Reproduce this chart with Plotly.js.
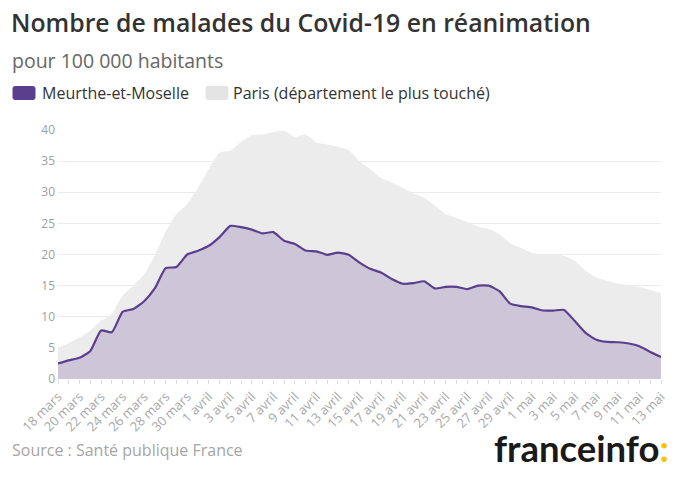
<!DOCTYPE html>
<html>
<head>
<meta charset="utf-8">
<script src="https://cdn.plot.ly/plotly-3.0.1.min.js"></script>
<style>
html,body{margin:0;padding:0;background:#fff;}
#chart{width:680px;height:480px;}
</style>
</head>
<body>
<div id="chart"></div>
<script>
const days = [
  "18 mars","19 mars","20 mars","21 mars","22 mars","23 mars","24 mars","25 mars","26 mars","27 mars",
  "28 mars","29 mars","30 mars","31 mars","1 avril","2 avril","3 avril","4 avril","5 avril","6 avril",
  "7 avril","8 avril","9 avril","10 avril","11 avril","12 avril","13 avril","14 avril","15 avril","16 avril",
  "17 avril","18 avril","19 avril","20 avril","21 avril","22 avril","23 avril","24 avril","25 avril","26 avril",
  "27 avril","28 avril","29 avril","30 avril","1 mai","2 mai","3 mai","4 mai","5 mai","6 mai",
  "7 mai","8 mai","9 mai","10 mai","11 mai","12 mai","13 mai"
];
const meurthe = [
  2.5, 3.0, 3.4, 4.5, 7.8, 7.5, 10.8, 11.25, 12.5, 14.6,
  17.8, 18.0, 20.0, 20.6, 21.4, 22.8, 24.6, 24.4, 24.0, 23.4,
  23.6, 22.2, 21.7, 20.65, 20.5, 19.95, 20.3, 19.95, 18.7, 17.7,
  17.1, 16.05, 15.3, 15.4, 15.7, 14.55, 14.8, 14.8, 14.45, 15.0,
  15.0, 14.1, 12.1, 11.7, 11.5, 11.0, 11.0, 11.1, 9.3, 7.4,
  6.3, 5.95, 5.9, 5.7, 5.25, 4.35, 3.55
];
const paris = [
  4.9, 5.7, 6.6, 7.7, 9.3, 10.3, 13.3, 14.9, 16.7, 19.7,
  23.5, 26.4, 28.0, 30.6, 33.6, 36.3, 36.6, 38.0, 39.1, 39.2,
  39.6, 39.8, 38.8, 39.2, 37.9, 37.6, 37.2, 36.7, 34.9, 33.6,
  32.2, 31.5, 30.6, 29.8, 29.0, 27.8, 26.4, 25.8, 25.1, 24.4,
  24.0, 23.2, 21.7, 21.0, 20.2, 19.95, 20.0, 19.7, 18.9, 17.3,
  16.2, 15.7, 15.25, 15.0, 14.7, 14.2, 13.7
];
const yTicks = [0, 5, 10, 15, 20, 25, 30, 35, 40];
const tickLabels = days.map((d, i) => (i % 2 === 0 ? d : ""));

const FONT = "'Open Sans', Lato, sans-serif";

const traces = [
  {
    x: days, y: paris, type: "scatter", mode: "lines",
    name: "Paris (département le plus touché)",
    line: {color: "#ececec", width: 1, shape: "spline", smoothing: 0.5},
    fill: "tozeroy", fillcolor: "#ececec",
    hoverinfo: "skip", showlegend: false
  },
  {
    x: days, y: meurthe, type: "scatter", mode: "lines",
    name: "Meurthe-et-Moselle",
    line: {color: "#5b3f8e", width: 2.2, shape: "spline", smoothing: 0.5},
    fill: "tozeroy", fillcolor: "#cdc6d9",
    hoverinfo: "skip", showlegend: false
  }
];

const layout = {
  width: 680, height: 480,
  margin: {l: 57.5, r: 19.3, t: 130, b: 100.5},
  paper_bgcolor: "#ffffff", plot_bgcolor: "#ffffff",
  font: {family: FONT, color: "#333"},
  title: {
    text: "Nombre de malades du Covid-19 en réanimation",
    font: {family: FONT, size: 24.8, color: "#333", weight: 600},
    x: 11/680, xanchor: "left", xref: "container",
    y: 1 - 23/480, yanchor: "middle", yref: "container"
  },
  showlegend: false,
  xaxis: {
    type: "category",
    range: [0, 56],
    tickvals: days, ticktext: tickLabels,
    tickangle: -45,
    ticks: "outside", ticklen: 4, tickcolor: "#dddddd", tickwidth: 1,
    tickfont: {family: FONT, size: 13, color: "#a8a8a8"},
    showgrid: false, zeroline: false, showline: false,
    fixedrange: true
  },
  yaxis: {
    range: [0, 40],
    tickvals: yTicks,
    tickfont: {family: FONT, size: 12, color: "#a0a0a0"},
    showgrid: true, gridcolor: "#ebebeb", gridwidth: 1,
    zeroline: false, showline: false, ticks: "", ticklabelstandoff: 2,
    fixedrange: true
  },
  shapes: [
    {type: "path", xref: "paper", yref: "paper",
     path: roundRect(12, 86, 23, 14, 3), fillcolor: "#5b3f8e", line: {width: 0}},
    {type: "path", xref: "paper", yref: "paper",
     path: roundRect(205, 86, 23, 14, 3), fillcolor: "#e4e4e4", line: {width: 0}}
  ],
  annotations: [
    {text: "pour 100 000 habitants", xref: "paper", yref: "paper",
     x: px(9), y: py(60), xanchor: "left", yanchor: "middle", showarrow: false,
     font: {family: FONT, size: 19.5, color: "#666"}},
    {text: "Meurthe-et-Moselle", xref: "paper", yref: "paper",
     x: px(39), y: py(93), xanchor: "left", yanchor: "middle", showarrow: false,
     font: {family: FONT, size: 16, color: "#333"}},
    {text: "Paris (département le plus touché)", xref: "paper", yref: "paper",
     x: px(231), y: py(93), xanchor: "left", yanchor: "middle", showarrow: false,
     font: {family: FONT, size: 16, color: "#333"}},
    {text: "Source : Santé publique France", xref: "paper", yref: "paper",
     x: px(9), y: py(451), xanchor: "left", yanchor: "middle", showarrow: false,
     font: {family: FONT, size: 16, color: "#a5a5a5"}},
    {text: "<b>franceinfo<span style='color:#f7c300'>:</span></b>", xref: "paper", yref: "paper",
     x: px(671), y: py(449), xanchor: "right", yanchor: "middle", showarrow: false,
     font: {family: "Lato, sans-serif", size: 36.5, color: "#1a1a1a"}}
  ]
};

function px(x){ return (x - 57.5) / (680 - 57.5 - 19.3); }
function py(y){ return (379.5 - y) / (379.5 - 130); }
function roundRect(x, y, w, h, r){
  const X = v => px(v), Y = v => py(v);
  return "M" + X(x + r) + "," + Y(y) +
    " L" + X(x + w - r) + "," + Y(y) +
    " Q" + X(x + w) + "," + Y(y) + " " + X(x + w) + "," + Y(y + r) +
    " L" + X(x + w) + "," + Y(y + h - r) +
    " Q" + X(x + w) + "," + Y(y + h) + " " + X(x + w - r) + "," + Y(y + h) +
    " L" + X(x + r) + "," + Y(y + h) +
    " Q" + X(x) + "," + Y(y + h) + " " + X(x) + "," + Y(y + h - r) +
    " L" + X(x) + "," + Y(y + r) +
    " Q" + X(x) + "," + Y(y) + " " + X(x + r) + "," + Y(y) + " Z";
}

Plotly.newPlot("chart", traces, layout, {displayModeBar: false, staticPlot: true});
</script>
</body>
</html>
